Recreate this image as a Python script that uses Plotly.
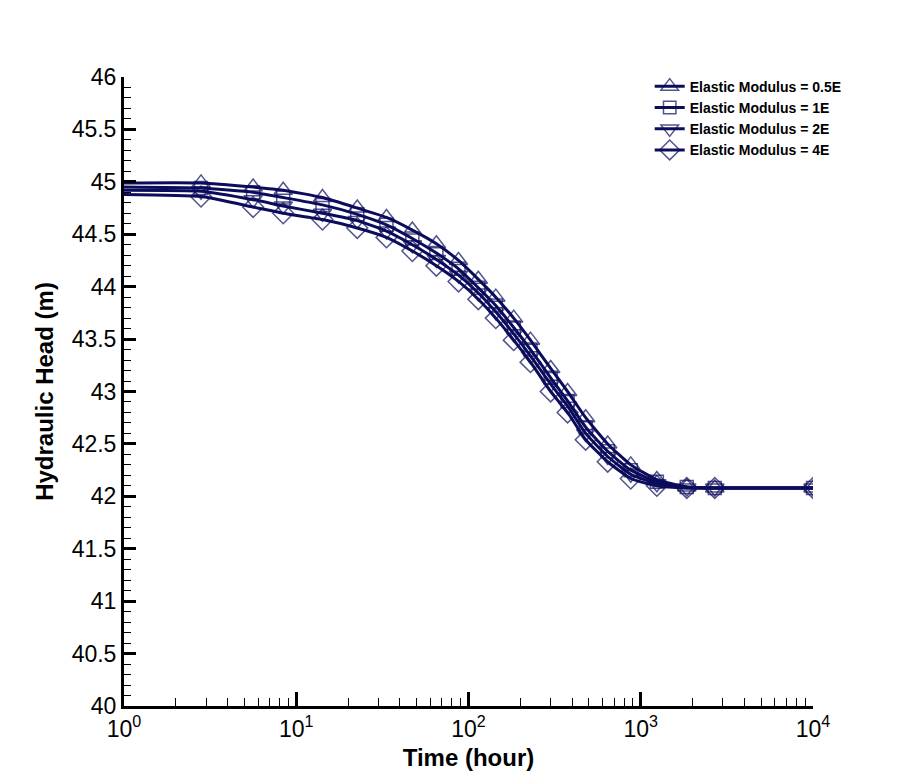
import plotly.graph_objects as go

# Time (hour) at output points
time_h = [1, 2.8, 5.62, 8.4, 14.2, 22.6, 33.4, 47.2, 65.1, 87.5, 114, 144, 183,
          229, 300, 376, 479, 643, 875, 1240, 1850, 2690, 10000]

head_05E = [44.99, 44.99, 44.95, 44.92, 44.85, 44.75, 44.66, 44.54, 44.41, 44.25,
            44.07, 43.90, 43.70, 43.49, 43.22, 43.00, 42.75, 42.50, 42.30, 42.16,
            42.09, 42.08, 42.08]
head_1E = [44.95, 44.94, 44.90, 44.85, 44.78, 44.69, 44.59, 44.46, 44.32, 44.17,
           43.99, 43.82, 43.61, 43.40, 43.13, 42.91, 42.66, 42.43, 42.25, 42.14,
           42.09, 42.08, 42.08]
head_2E = [44.92, 44.91, 44.83, 44.77, 44.70, 44.63, 44.53, 44.40, 44.26, 44.11,
           43.94, 43.76, 43.55, 43.34, 43.07, 42.86, 42.60, 42.38, 42.21, 42.12,
           42.08, 42.08, 42.08]
head_4E = [44.88, 44.86, 44.76, 44.70, 44.64, 44.56, 44.47, 44.34, 44.20, 44.05,
           43.88, 43.70, 43.49, 43.28, 43.00, 42.80, 42.54, 42.33, 42.17, 42.10,
           42.08, 42.08, 42.08]

series_names = ["Elastic Modulus = 0.5E", "Elastic Modulus = 1E",
                "Elastic Modulus = 2E", "Elastic Modulus = 4E"]
series_values = [head_05E, head_1E, head_2E, head_4E]

x_tickvals = [1, 10, 100, 1000, 10000]
x_ticktext = ["10<sup>0</sup>", "10<sup>1</sup>", "10<sup>2</sup>", "10<sup>3</sup>", "10<sup>4</sup>"]
y_tickvals = [40, 40.5, 41, 41.5, 42, 42.5, 43, 43.5, 44, 44.5, 45, 45.5, 46]
y_ticktext = ["40", "40.5", "41", "41.5", "42", "42.5", "43", "43.5", "44", "44.5", "45", "45.5", "46"]

NAVY = "#0c0c5c"
symbols = ["triangle-up-open", "square-open", "triangle-down-open", "diamond-open"]
sizes = [16, 13, 16, 16]

fig = go.Figure()
for name, vals, sym, sz in zip(series_names, series_values, symbols, sizes):
    msize = [0] + [sz] * (len(time_h) - 1)
    fig.add_trace(go.Scatter(
        x=time_h, y=vals, name=name, mode="lines+markers",
        line=dict(color=NAVY, width=3, shape="spline", smoothing=0.5),
        marker=dict(symbol=sym, size=msize, color=NAVY, line=dict(color=NAVY, width=1.5)),
    ))

FAM = "Liberation Sans, Arial, sans-serif"
axis_font = dict(family=FAM, size=23, color="black")
title_font = dict(family=FAM, size=24, color="black", weight="bold")

# page body has an 8px default margin; compensate so the plot sits where the reference has it
fig.update_layout(
    width=904, height=763,
    margin=dict(l=116, r=99, t=69, b=65, autoexpand=False),
    paper_bgcolor="white", plot_bgcolor="white",
    showlegend=True,
    legend=dict(x=0.763, y=1.01, xanchor="left", yanchor="top",
                font=dict(family=FAM, size=14, color="black", weight="bold"),
                bgcolor="rgba(0,0,0,0)", tracegroupgap=0, itemwidth=30),
    xaxis=dict(
        type="log", range=[0, 4], automargin=False,
        tickvals=x_tickvals, ticktext=x_ticktext,
        ticks="inside", ticklen=14, tickwidth=3, tickcolor="black",
        showline=True, linecolor="black", linewidth=3, mirror=False,
        showgrid=False, zeroline=False,
        tickfont=axis_font,
        minor=dict(dtick="D1", ticks="inside", ticklen=8, tickwidth=1.2,
                   tickcolor="black", showgrid=False),
        title=dict(text="Time (hour)", font=title_font, standoff=12),
    ),
    yaxis=dict(
        range=[40, 46], automargin=False,
        tickvals=y_tickvals, ticktext=y_ticktext,
        ticks="inside", ticklen=12, tickwidth=3, tickcolor="black",
        showline=True, linecolor="black", linewidth=3, mirror=False,
        showgrid=False, zeroline=False,
        tickfont=axis_font,
        minor=dict(dtick=0.1, ticks="inside", ticklen=7, tickwidth=1.2,
                   tickcolor="black", showgrid=False),
        title=dict(text="Hydraulic Head (m)", font=title_font, standoff=12),
    ),
    shapes=[dict(type="line", xref="paper", yref="paper", x0=-0.1727, x1=-0.1727,
                 y0=-0.2, y1=1.2, line=dict(color="#e6e6e6", width=1))],
)

fig.write_html("out.html")
